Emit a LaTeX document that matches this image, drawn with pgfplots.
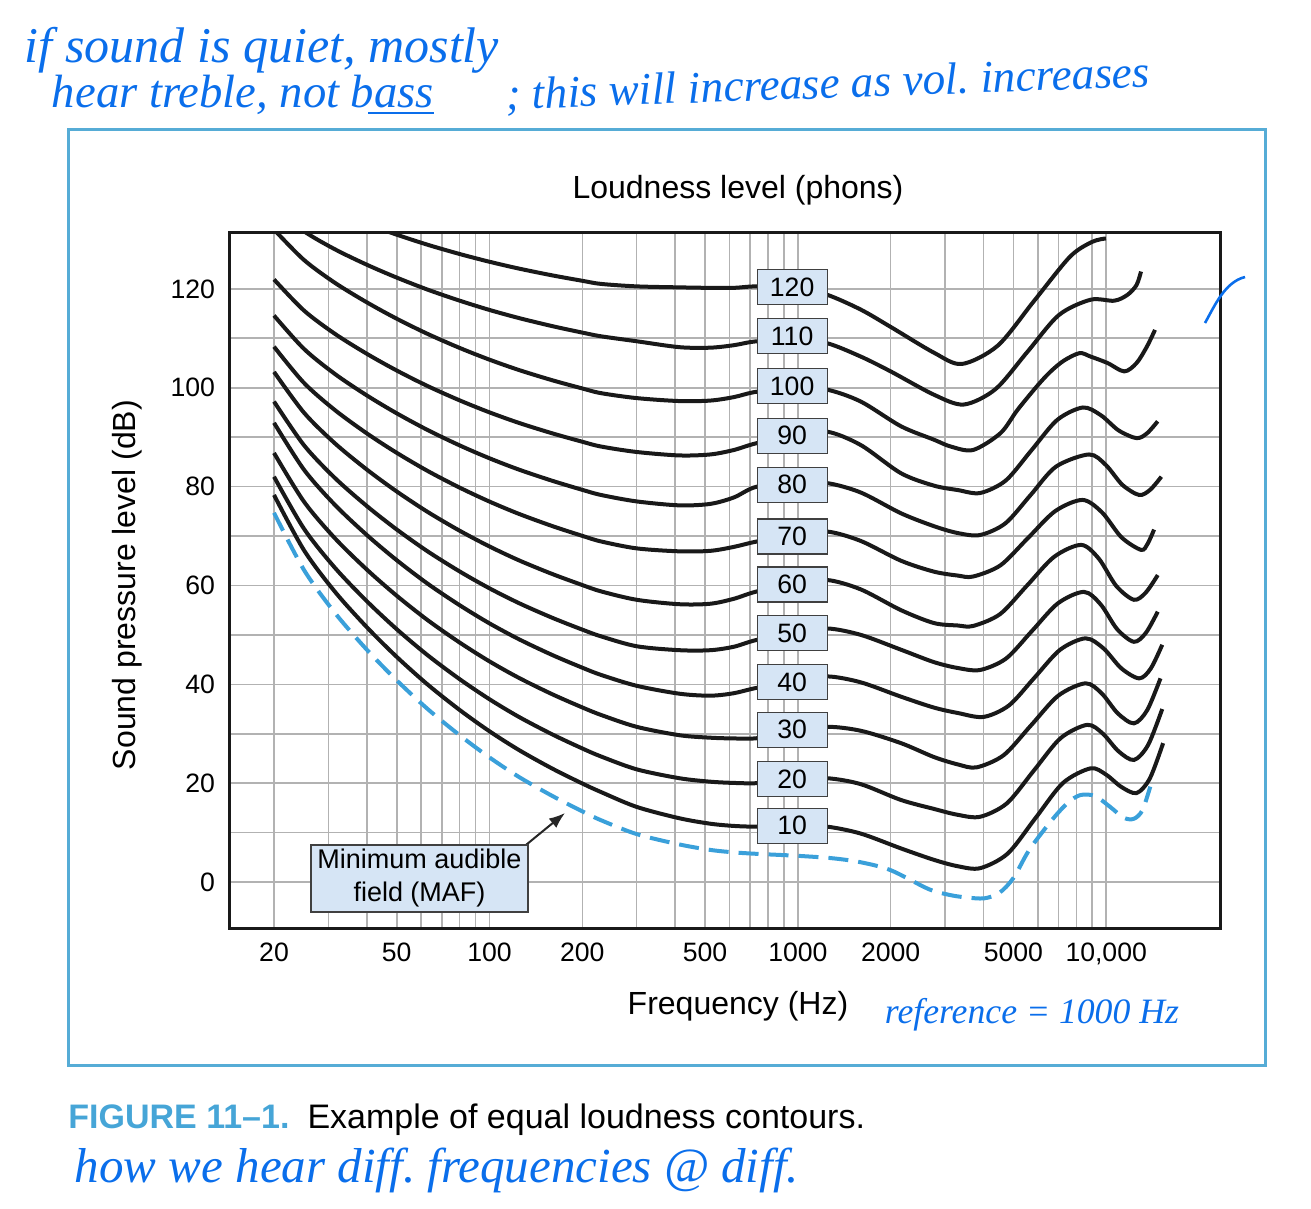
\documentclass[border=0pt]{standalone}
\usepackage{fontspec}
\setmainfont{Liberation Sans}
\newfontfamily\hand{Liberation Serif}
\usepackage{graphicx}
\usepackage{pgfplots}
\pgfplotsset{compat=1.18}
\usetikzlibrary{arrows.meta}
\definecolor{maf}{RGB}{58,160,218}
\definecolor{boxfill}{RGB}{214,229,245}
\definecolor{frame}{RGB}{86,172,214}
\definecolor{ink}{RGB}{10,110,235}
\definecolor{figblue}{RGB}{70,165,215}

\begin{document}
\begin{tikzpicture}
\useasboundingbox (0,0) rectangle (655.5pt,-604.5pt);
\begin{axis}[
    at={(114.5pt,-464pt)}, anchor=south west,
    scale only axis, width=495.5pt, height=347.5pt,
    xmode=log, xmin=14.29, xmax=23400, ymin=-9.3, ymax=131.3,
    xtick={20,50,100,200,500,1000,2000,5000,10000},
    xticklabels={20,50,100,200,500,1000,2000,5000,{10,000}},
    minor xtick={20,30,40,50,60,70,80,90,100,200,300,400,500,600,700,800,900,1000,2000,3000,4000,5000,6000,7000,8000,9000,10000},
    ytick={0,20,...,120}, minor ytick={10,30,...,110},
    grid=both, grid style={black!30, line width=0.8pt},
    major tick length=0pt, minor tick length=0pt,
    axis line style={line width=1.5pt, black!90},
    /pgf/number format/assume math mode=true,
    tick label style={font=\fontsize{13.3}{16}\selectfont},
    xticklabel style={yshift=-4pt},
    yticklabel style={xshift=-3.5pt},
    label style={font=\fontsize{16}{19}\selectfont},
    title style={font=\fontsize{16}{19}\selectfont, at={([yshift=15.5pt]axis description cs:0.5136,1)}, anchor=center},
    xlabel style={at={([yshift=-39pt]axis description cs:0.5136,0)}, anchor=center},
    ylabel style={at={([xshift=-51pt]axis description cs:0,0.4935)}, anchor=center},
    title={Loudness level (phons)},
    xlabel={Frequency (Hz)},
    ylabel={Sound pressure level (dB)},
    curve/.style={smooth, line width=2pt, black!90, mark=none, solid},
]
% minimum audible field
\addplot[smooth, mark=none, maf, line width=2pt, dash pattern=on 10pt off 5pt] coordinates {(20,74.7)(25,63.16)(31.5,54.47)(40,47)(50,40.8)(63,35)(80,29.7)(100,25.2)(125,21.2)(160,17.4)(200,14.3)(230,12.5)(300,9.7)(413,7.6)(520,6.5)(620,6)(738,5.7)(1000,5.3)(1300,4.8)(1600,4)(2000,2.4)(2650,-1.4)(3100,-2.6)(3500,-3.1)(4020,-3.3)(4500,-2.2)(5000,0.8)(5630,6.5)(6660,12.5)(7500,16)(8250,17.6)(9200,17.4)(10300,15.2)(11400,13)(12300,12.8)(13100,14.5)(13900,19.3)};
% 10 to 120 phons
\addplot[curve] coordinates {(20,78.3)(25,67.15)(31.5,58.75)(40,51.55)(50,45.55)(63,39.95)(80,34.81)(100,30.49)(125,26.65)(160,22.93)(200,19.93)(230,18.2)(300,15.2)(413,12.9)(520,11.8)(620,11.35)(738,11.2)(1000,11.3)(1245,11.2)(1600,9.8)(2160,6.8)(2760,4.5)(3300,3.2)(3900,2.8)(4793,5.76)(5892,12.9)(7242,20.04)(8900,23)(9981,21.75)(11194,19.25)(12550,18)(13856,20.96)(15300,28.1)};
\addplot[curve] coordinates {(20,82)(25,71.5)(31.5,63.59)(40,56.81)(50,51.15)(63,45.88)(80,41.04)(100,36.97)(125,33.35)(160,29.85)(200,27.02)(230,25.4)(300,22.8)(413,21)(520,20.3)(620,20.05)(738,20)(1000,20.6)(1245,21)(1600,19.8)(2160,16.6)(2760,14.8)(3300,13.6)(3900,13.2)(4763,15.92)(5818,22.5)(7107,29.08)(8680,31.8)(9750,30.03)(10952,26.48)(12300,24.7)(13674,27.72)(15200,35)};
\addplot[curve] coordinates {(20,86.8)(25,76.97)(31.5,69.56)(40,63.21)(50,57.92)(63,52.98)(80,48.45)(100,44.63)(125,41.25)(160,37.97)(200,35.32)(230,33.8)(300,31.4)(413,29.7)(520,29.2)(620,29.05)(738,29.1)(1000,30.4)(1245,31.4)(1600,30.6)(2160,28.1)(2760,25.3)(3300,23.8)(3800,23.2)(4657,25.69)(5706,31.7)(6994,37.71)(8570,40.2)(9666,38.18)(10904,34.13)(12300,32.1)(13584,34.77)(15000,41.2)};
\addplot[curve] coordinates {(20,92.9)(25,83.44)(31.5,76.31)(40,70.2)(50,65.11)(63,60.35)(80,56)(100,52.32)(125,49.07)(160,45.91)(200,43.36)(230,41.9)(300,39.7)(413,38.1)(520,37.7)(620,38.2)(738,39.3)(1000,40.6)(1245,41.6)(1600,40.4)(2160,37.5)(2760,35.3)(3300,34.2)(4000,33.4)(4839,35.73)(5855,41.35)(7082,46.97)(8570,49.3)(9797,47.28)(11198,43.23)(12800,41.2)(13948,43.19)(15200,48)};
\addplot[curve] coordinates {(20,97.2)(25,88.39)(31.5,81.75)(40,76.06)(50,71.32)(63,66.89)(80,62.83)(100,59.41)(125,56.38)(160,53.44)(200,51.06)(230,49.7)(300,47.7)(413,46.9)(520,46.9)(620,47.6)(738,49)(1000,50.4)(1245,51.3)(1600,50)(2160,47)(2760,44.5)(3300,43.3)(3900,42.9)(4734,45.21)(5747,50.8)(6976,56.39)(8470,58.7)(9592,56.18)(10861,51.13)(12300,48.6)(13445,50.39)(14700,54.7)};
\addplot[curve] coordinates {(20,103.2)(25,94.97)(31.5,88.76)(40,83.44)(50,79.01)(63,74.87)(80,71.07)(100,67.88)(125,65.04)(160,62.3)(200,60.08)(230,58.8)(300,57.1)(413,56.2)(520,56.3)(620,57.3)(738,58.8)(1000,60.3)(1245,61.1)(1600,59.2)(2160,55)(2760,52.4)(3300,51.9)(3700,51.8)(4527,54.2)(5541,60)(6783,65.8)(8300,68.2)(9462,65.43)(10787,59.88)(12300,57.1)(13445,58.57)(14700,62.1)};
\addplot[curve] coordinates {(20,108.3)(25,100.99)(31.5,95.49)(40,90.76)(50,86.83)(63,83.16)(80,79.79)(100,76.96)(125,74.44)(160,72)(200,70.03)(230,68.9)(300,67.5)(413,66.9)(520,67)(620,67.8)(738,68.9)(1000,70.2)(1245,70.9)(1600,69)(2160,65)(2760,62.8)(3300,62)(3700,61.8)(4540,64.07)(5568,69.55)(6831,75.03)(8380,77.3)(9694,74.78)(11214,69.73)(12970,67.2)(13619,68.4)(14300,71.3)};
\addplot[curve] coordinates {(20,114.6)(25,107.87)(31.5,102.79)(40,98.44)(50,94.82)(63,91.44)(80,88.33)(100,85.72)(125,83.4)(160,81.16)(200,79.34)(230,78.3)(300,77)(413,76.2)(520,76.5)(620,77.8)(738,80)(1000,80.6)(1245,80.7)(1600,78.8)(2160,74.6)(2760,72)(3300,70.6)(3900,70.2)(4711,72.57)(5689,78.3)(6872,84.03)(8800,86.5)(9970,84.38)(11296,80.33)(12800,78.3)(13903,79.38)(15100,82)};
\addplot[curve] coordinates {(20,121.9)(25,115.63)(31.5,110.91)(40,106.86)(50,103.48)(63,100.33)(80,97.44)(100,95.01)(125,92.85)(160,90.76)(200,89.07)(230,88.1)(300,87)(413,86.3)(520,86.5)(620,87.4)(738,88.8)(1000,90.2)(1245,91.1)(1600,88.4)(2160,82.7)(2760,80.2)(3300,79.3)(3900,78.7)(4724,81.23)(5724,87.35)(6933,93.47)(8400,96)(9603,94.45)(10980,91.35)(12550,89.8)(13578,90.8)(14690,93.2)};
\addplot[curve] coordinates {(20,132)(25,125.86)(31.5,121.23)(40,117.27)(50,113.96)(63,110.88)(80,108.05)(100,105.67)(125,103.55)(160,101.5)(200,99.85)(230,98.9)(300,97.9)(413,97.3)(520,97.4)(620,98.1)(738,99.2)(1000,99.8)(1245,99.6)(1600,97.2)(2160,92.2)(2760,89.5)(3133,88.1)(3700,87.4)(4540,90.8)(5155,95.5)(6000,100.5)(6610,103.3)(7300,105.5)(8200,107)(8900,106.3)(10100,105)(11450,103.3)(12550,105)(13550,108.3)(14400,111.7)};
\addplot[curve] coordinates {(20,136.5)(25,131.66)(31.5,128.01)(40,124.88)(50,122.28)(63,119.84)(80,117.61)(100,115.73)(125,114.07)(160,112.45)(200,111.15)(230,110.4)(300,109.4)(413,108.2)(520,108.1)(620,108.6)(738,109.4)(1000,109.6)(1245,109)(1600,106.3)(2000,103.3)(2760,98.6)(3450,96.6)(4373,99.7)(5543,107.2)(7023,114.7)(8900,117.8)(10620,117.6)(11730,118.8)(12550,120.8)(12970,123.5)};
\addplot[curve] coordinates {(20,142.9)(25,138.84)(31.5,135.78)(40,133.15)(50,130.96)(63,128.92)(80,127.05)(100,125.48)(125,124.08)(160,122.72)(200,121.63)(230,121)(300,120.5)(413,120.3)(520,120.2)(620,120.2)(738,120.5)(1000,120.1)(1245,118.8)(1600,115.8)(2000,112.3)(2760,107.1)(3400,104.8)(4451,108.52)(5826,117.5)(7626,126.48)(9000,129.5)(9980,130.2)};

% phon boxes
\tikzset{phon/.style={draw=black!75, fill=boxfill, line width=0.6pt, minimum width=35pt, minimum height=17.5pt, inner sep=0pt, font=\fontsize{13.3}{16}\selectfont}}
\node[phon] at (axis cs:958,120.4) {120};
\node[phon] at (axis cs:958,110.4) {110};
\node[phon] at (axis cs:958,100.3) {100};
\node[phon] at (axis cs:958,90.3) {90};
\node[phon] at (axis cs:958,80.4) {80};
\node[phon] at (axis cs:958,69.9) {70};
\node[phon] at (axis cs:958,60.2) {60};
\node[phon] at (axis cs:958,50.3) {50};
\node[phon] at (axis cs:958,40.4) {40};
\node[phon] at (axis cs:958,30.8) {30};
\node[phon] at (axis cs:958,20.8) {20};
\node[phon] at (axis cs:958,11.4) {10};
\end{axis}

\begin{scope}[x=0.5pt,y=-0.5pt]
\draw[frame, line width=1.5pt] (68,130) rectangle (1265,1065);
\draw[-{Latex[length=8pt,width=6pt]}, line width=1pt, black!85] (521,849) -- (565,813);
\node[draw=black!75, fill=boxfill, line width=0.6pt, minimum width=108.5pt, minimum height=33.5pt, inner sep=0pt, align=center, font=\fontsize{13.5}{16.5}\selectfont] at (419.5,878.5) {Minimum audible\\field (MAF)};
\node[anchor=base west, inner sep=0pt, font=\fontsize{17}{20}\selectfont] at (68,1128) {\textcolor{figblue}{\bfseries FIGURE 11–1.}\hspace{9pt}Example of equal loudness contours.};
% handwritten notes
\node[ink] at (262,50) {\resizebox{237pt}{!}{\hand\itshape if sound is quiet, mostly}};
\node[ink] at (243,95) {\resizebox{191pt}{!}{\hand\itshape hear treble, not bass}};
\draw[ink, line width=1.3pt] (368,113) -- (434,113);
\node[ink, rotate=2] at (828,86) {\resizebox{322pt}{!}{\hand\itshape ; this will increase as vol.\ increases}};
\node[ink] at (1032,1015) {\resizebox{147pt}{!}{\hand\itshape reference = 1000 Hz}};
\node[ink] at (437,1170) {\resizebox{362pt}{!}{\hand\itshape how we hear diff.\ frequencies @ diff.}};
\draw[ink, line width=1.3pt] (1205,323) .. controls (1215,305) and (1225,282) .. (1245,277);
\end{scope}
\end{tikzpicture}
\end{document}
